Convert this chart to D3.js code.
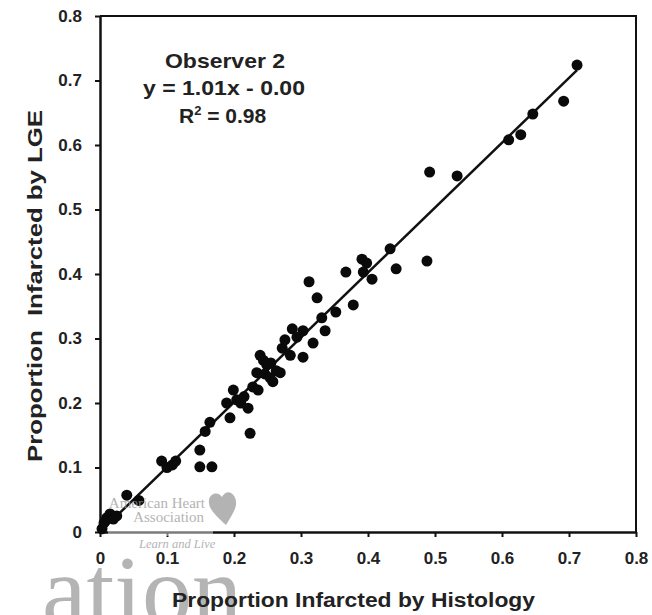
<!DOCTYPE html>
<html>
<head>
<meta charset="utf-8">
<script src="https://cdn.jsdelivr.net/npm/d3@7"></script>
<style>
  body { margin: 0; background: #fff; }
  svg text { font-family: "Liberation Sans", Arial, sans-serif; }
</style>
</head>
<body>
<div id="vis"></div>
<script>
// proportion infarcted, histology (x) vs LGE (y)
const histology = [0.003, 0.006, 0.010, 0.015, 0.020, 0.025, 0.040, 0.058, 0.092, 0.100,
  0.108, 0.113, 0.149, 0.149, 0.167, 0.157, 0.164, 0.189, 0.194, 0.199,
  0.204, 0.210, 0.215, 0.221, 0.224, 0.228, 0.236, 0.234, 0.239, 0.246,
  0.249, 0.254, 0.255, 0.258, 0.263, 0.269, 0.244, 0.272, 0.276, 0.284,
  0.287, 0.294, 0.303, 0.303, 0.318, 0.312, 0.324, 0.331, 0.336, 0.352,
  0.378, 0.367, 0.391, 0.398, 0.393, 0.406, 0.433, 0.442, 0.488, 0.492,
  0.533, 0.610, 0.628, 0.646, 0.692, 0.712]
const lge = [0.005, 0.014, 0.022, 0.028, 0.020, 0.025, 0.057, 0.049, 0.110, 0.100,
  0.104, 0.110, 0.127, 0.101, 0.101, 0.156, 0.170, 0.200, 0.177, 0.220,
  0.205, 0.200, 0.210, 0.192, 0.153, 0.225, 0.220, 0.247, 0.274, 0.245,
  0.259, 0.239, 0.262, 0.233, 0.250, 0.247, 0.266, 0.285, 0.298, 0.274,
  0.315, 0.302, 0.312, 0.271, 0.293, 0.388, 0.363, 0.332, 0.312, 0.341,
  0.352, 0.403, 0.423, 0.417, 0.403, 0.392, 0.439, 0.408, 0.420, 0.558,
  0.552, 0.608, 0.616, 0.648, 0.668, 0.724]

const tickValues = [0, 0.1, 0.2, 0.3, 0.4, 0.5, 0.6, 0.7, 0.8]
const annotation = ['Observer 2', 'y = 1.01x - 0.00']
const slope = 1.01, intercept = -0.003

const dataset = histology.map((h, i) => ({x: h, y: lge[i]}))

const width = 652, height = 615
const margin = {left: 100, top: 16, right: 16, bottom: 83}

const xScale = d3.scaleLinear([0, 0.8], [margin.left, width - margin.right])
const yScale = d3.scaleLinear([0, 0.8], [height - margin.bottom, margin.top])

const svg = d3.select('#vis').append('svg')
    .attr('width', width)
    .attr('height', height)

const fmt = d => d === 0 ? '0' : d3.format('.1f')(d)

// big grey watermark letters sit behind everything
svg.append('text')
    .attr('x', 42).attr('y', 624)
    .attr('font-size', 100).style('font-family', '"Liberation Serif", serif')
    .attr('fill', '#b4b4b4').text('ation')

// frame (top + right)
svg.append('path')
    .attr('d', `M${xScale(0)},${yScale(0.8)}H${xScale(0.8)}V${yScale(0)}`)
    .attr('fill', 'none')
    .attr('stroke', '#111')
    .attr('stroke-width', 2)

let xAxis = d3.axisBottom(xScale).tickValues(tickValues).tickFormat(fmt)
    .tickSizeInner(5).tickSizeOuter(0).tickPadding(15)
let yAxis = d3.axisLeft(yScale).tickValues(tickValues).tickFormat(fmt)
    .tickSizeInner(5).tickSizeOuter(0).tickPadding(13)

function styleAxis(g){
    g.select('.domain').attr('stroke', '#111').attr('stroke-width', 2.5)
    g.selectAll('.tick line').attr('stroke', '#111').attr('stroke-width', 2)
    g.selectAll('.tick text')
        .attr('font-size', 17).attr('font-weight', 'bold').attr('fill', '#222')
        .attr('font-family', '"Liberation Sans", Arial, sans-serif')
}

svg.append('g')
    .attr('transform', `translate(0, ${yScale(0)})`)
    .call(xAxis)
    .call(styleAxis)

svg.append('g')
    .attr('transform', `translate(${xScale(0)}, 0)`)
    .call(yAxis)
    .call(styleAxis)

// regression line
const xMax = d3.max(histology)
svg.append('line')
    .attr('x1', xScale(0)).attr('y1', yScale(Math.max(0, intercept)))
    .attr('x2', xScale(xMax)).attr('y2', yScale(slope * xMax + intercept))
    .attr('stroke', '#111')
    .attr('stroke-width', 2.5)

svg.selectAll('circle.pt')
    .data(dataset)
    .enter()
    .append('circle')
        .attr('class', 'pt')
        .attr('cx', d => xScale(d.x))
        .attr('cy', d => yScale(d.y))
        .attr('r', 5.5)
        .attr('fill', '#0a0a0a')

// annotation block
const ann = svg.append('g')
    .attr('font-size', 21)
    .attr('font-weight', 'bold')
    .attr('fill', '#222')
ann.append('text').attr('x', 165).attr('y', 68)
    .attr('textLength', 120).attr('lengthAdjust', 'spacingAndGlyphs')
    .text(annotation[0])
ann.append('text').attr('x', 143).attr('y', 95)
    .attr('textLength', 162).attr('lengthAdjust', 'spacingAndGlyphs')
    .text(annotation[1])
const r2 = ann.append('text').attr('x', 179).attr('y', 123)
r2.append('tspan').text('R')
r2.append('tspan').attr('font-size', 13).attr('dy', -8).text('2')
r2.append('tspan').attr('dy', 8).text(' = 0.98')

// axis titles
svg.append('text')
    .attr('x', 172).attr('y', 607)
    .attr('textLength', 363).attr('lengthAdjust', 'spacingAndGlyphs')
    .attr('font-size', 20).attr('font-weight', 'bold').attr('fill', '#222')
    .text('Proportion Infarcted by Histology')

svg.append('text')
    .attr('transform', 'translate(42, 462) rotate(-90)')
    .attr('textLength', 352).attr('lengthAdjust', 'spacingAndGlyphs')
    .attr('font-size', 20).attr('font-weight', 'bold').attr('fill', '#222')
    .style('white-space', 'pre')
    .text('Proportion  Infarcted by LGE')

// publisher watermark
const wm = svg.append('g').attr('fill', '#9a9a9a').attr('opacity', 0.75)
wm.append('rect').attr('x', 108).attr('y', 526).attr('width', 105).attr('height', 10)
    .attr('fill', '#fff').attr('opacity', 0.6)
wm.append('text').attr('x', 205).attr('y', 508).attr('text-anchor', 'end')
    .attr('font-size', 15).style('font-family', '"Liberation Serif", serif').text('American Heart')
wm.append('text').attr('x', 204).attr('y', 522).attr('text-anchor', 'end')
    .attr('font-size', 15).style('font-family', '"Liberation Serif", serif').text('Association')
wm.append('text').attr('x', 139).attr('y', 548)
    .attr('font-size', 12.5).attr('font-style', 'italic')
    .style('font-family', '"Liberation Serif", serif').text('Learn and Live')
wm.append('path')
    .attr('d', 'M226,525 C214,514 208,508 209,500 C210,493 218,491 222,497 C224,493 228,491 231,493 C236,496 238,503 234,511 C232,515 229,520 226,525 Z')
</script>
</body>
</html>
